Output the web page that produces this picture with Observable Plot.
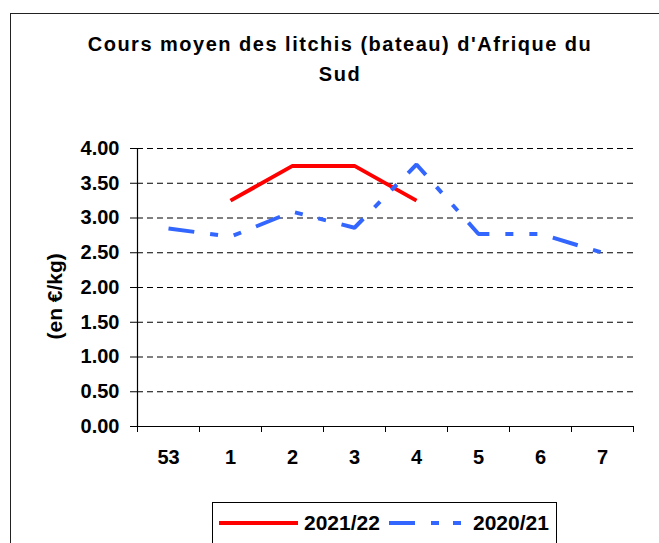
<!DOCTYPE html>
<html>
<head>
<meta charset="utf-8">
<script src="https://cdn.jsdelivr.net/npm/d3@7"></script>
<script src="https://cdn.jsdelivr.net/npm/@observablehq/plot@0.6"></script>
<style>
  body { margin: 0; background: #fff; font-family: "Liberation Sans", Arial, sans-serif; }
  #wrap { position: relative; width: 659px; height: 543px; overflow: hidden; background: #fff; }
  #title { position: absolute; left: 20px; width: 640px; top: 29px; text-align: center; font-weight: bold;
           font-size: 20px; line-height: 30px; letter-spacing: 1.5px; white-space: nowrap; color: #000; }
  #chart { position: absolute; left: 0; top: 95px; }
  #frame { position: absolute; left: 10px; top: 13px; width: 700px; height: 600px; border: 1.5px solid #222; box-sizing: border-box; }
  #legend { position: absolute; left: 212px; top: 502px; width: 345px; height: 60px; border: 1px solid #000; box-sizing: border-box; background: #fff; }
  #legend .sw { position: absolute; top: 16px; }
  #legend .lab { position: absolute; top: 9px; font-size: 21px; line-height: 21px; font-weight: bold; white-space: nowrap; color: #000; }
  g[aria-label="ylabel"] text { letter-spacing: 2px; }
</style>
</head>
<body>
<div id="wrap">
  <div id="title"></div>
  <div id="chart"></div>
  <div id="frame"></div>
  <div id="legend"></div>
</div>
<script>
// ---- data ----
const titleLines = ["Cours moyen des litchis (bateau) d'Afrique du", "Sud"];
const yLabel = "(en €/kg)";
const weeks = ["53", "1", "2", "3", "4", "5", "6", "7"];
const prices2122 = [null, 3.25, 3.75, 3.75, 3.25, null, null, null];
const prices2021 = [2.85, 2.73, 3.09, 2.86, 3.77, 2.77, 2.77, 2.50];
const yTicks = [0, 0.5, 1, 1.5, 2, 2.5, 3, 3.5, 4];
const seriesNames = ["2021/22", "2020/21"];
const seriesColors = ["#FF0000", "#3366FF"];
const blueDash = "26,16,8,16,8,16";

// ---- title ----
document.getElementById("title").innerHTML = titleLines.join("<br>");

const toRows = arr => weeks.map((w, i) => ({week: w, idx: i, v: arr[i]})).filter(d => d.v != null);
const rows2122 = toRows(prices2122);
const rows2021 = toRows(prices2021);
const idx = weeks.map((w, i) => i);
const boundaries = weeks.map((w, i) => i - 0.5).concat([weeks.length - 0.5]);

const chart = Plot.plot({
  width: 659,
  height: 448,
  marginLeft: 137,
  marginRight: 26,
  marginTop: 53,
  marginBottom: 117,
  style: {background: "transparent", fontFamily: "'Liberation Sans', Arial, sans-serif", fontSize: "20px", fontWeight: "bold", color: "#000", overflow: "visible"},
  x: {domain: [-0.5, weeks.length - 0.5], axis: null},
  y: {domain: [0, 4], axis: null},
  marks: [
    Plot.ruleY(yTicks.filter(d => d > 0), {stroke: "#000", strokeWidth: 1, strokeDasharray: "6,4"}),
    Plot.ruleY([0], {stroke: "#000", strokeWidth: 1.2}),
    Plot.ruleX([-0.5], {y1: 0, y2: 4, stroke: "#000", strokeWidth: 1.2}),
    Plot.axisY(yTicks, {tickSize: 7, tickPadding: 11, tickFormat: d => d.toFixed(2), fontSize: 20, label: null, strokeOpacity: 1}),
    Plot.axisX(boundaries, {tickSize: 6, tickFormat: () => "", label: null, strokeOpacity: 1}),
    Plot.axisX(idx, {tickSize: 0, tickPadding: 23, tickFormat: i => weeks[i], fontSize: 20, label: null}),
    Plot.line(rows2122, {x: "idx", y: "v", stroke: seriesColors[0], strokeWidth: 4, strokeLinecap: "butt", strokeLinejoin: "miter"}),
    Plot.line(rows2021, {x: "idx", y: "v", stroke: seriesColors[1], strokeWidth: 4, strokeLinecap: "butt", strokeLinejoin: "miter", strokeDasharray: blueDash}),
    Plot.text([yLabel], {frameAnchor: "left", dx: -82, dy: 52, rotate: -90, fontSize: 21, fontWeight: "bold", ariaLabel: "ylabel"})
  ]
});
document.getElementById("chart").appendChild(chart);

// ---- legend ----
const legend = document.getElementById("legend");
const legendLayout = [
  {swLeft: 6, swWidth: 79, labLeft: 91},
  {swLeft: 176, swWidth: 74, labLeft: 260}
];
seriesNames.forEach((name, k) => {
  const L = legendLayout[k];
  const ns = "http://www.w3.org/2000/svg";
  const sv = document.createElementNS(ns, "svg");
  sv.setAttribute("class", "sw");
  sv.setAttribute("width", L.swWidth);
  sv.setAttribute("height", 8);
  sv.style.left = L.swLeft + "px";
  const ln = document.createElementNS(ns, "line");
  ln.setAttribute("x1", 0); ln.setAttribute("x2", L.swWidth);
  ln.setAttribute("y1", 4); ln.setAttribute("y2", 4);
  ln.setAttribute("stroke", seriesColors[k]);
  ln.setAttribute("stroke-width", 4);
  if (k === 1) ln.setAttribute("stroke-dasharray", "26,16,8,14,8,20");
  else ln.setAttribute("stroke-linecap", "round");
  sv.appendChild(ln);
  legend.appendChild(sv);
  const lab = document.createElement("div");
  lab.className = "lab";
  lab.style.left = L.labLeft + "px";
  lab.textContent = name;
  legend.appendChild(lab);
});
</script>
</body>
</html>
